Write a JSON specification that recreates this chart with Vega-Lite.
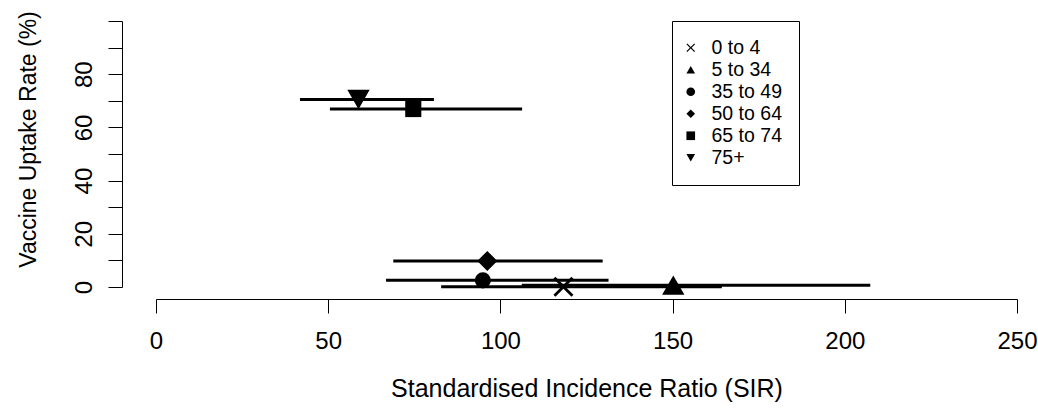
{
  "$schema": "https://vega.github.io/schema/vega-lite/v6.json",
  "width": 861,
  "height": 266,
  "autosize": {"type": "none"},
  "padding": {"left": 156, "top": 21, "right": 21, "bottom": 129},
  "background": "white",
  "config": {
    "view": {"stroke": null},
    "font": "Liberation Sans",
    "axis": {
      "grid": false,
      "domainColor": "black",
      "tickColor": "black",
      "labelColor": "black",
      "titleColor": "black",
      "labelFont": "Liberation Sans",
      "titleFont": "Liberation Sans",
      "titleFontWeight": "normal",
      "labelFontSize": 24,
      "titleFontSize": 24,
      "tickSize": 14,
      "domainWidth": 1,
      "tickWidth": 1
    },
    "legend": {
      "orient": "none",
      "legendX": 516,
      "legendY": 0,
      "strokeColor": "black",
      "strokeWidth": 1,
      "fillColor": "white",
      "padding": 17,
      "labelFontSize": 19.5,
      "labelFont": "Liberation Sans",
      "labelColor": "black",
      "symbolSize": 75,
      "symbolFillColor": "black",
      "symbolStrokeColor": "black",
      "symbolStrokeWidth": 0,
      "symbolOpacity": 1,
      "symbolOffset": -8,
      "rowPadding": 1,
      "labelOffset": 11
    }
  },
  "datasets": {
    "est": [
      {"group": "0 to 4", "sir": 118.3, "lower": 82.8, "upper": 164.3, "uptake": 0.1},
      {"group": "5 to 34", "sir": 150.2, "lower": 106.2, "upper": 207.4, "uptake": 0.7},
      {"group": "35 to 49", "sir": 94.9, "lower": 66.8, "upper": 131.4, "uptake": 2.5},
      {"group": "50 to 64", "sir": 96.2, "lower": 68.9, "upper": 129.7, "uptake": 9.8},
      {"group": "65 to 74", "sir": 74.7, "lower": 50.5, "upper": 106.3, "uptake": 66.9},
      {"group": "75+", "sir": 58.8, "lower": 41.8, "upper": 80.7, "uptake": 70.5}
    ],
    "ref": [{"ref": 100}]
  },
  "encoding": {
    "x": {
      "field": "sir",
      "type": "quantitative",
      "title": "Standardised Incidence Ratio (SIR)",
      "scale": {"domain": [0, 250], "nice": false, "zero": false},
      "axis": {
        "values": [0, 50, 100, 150, 200, 250],
        "offset": 12,
        "labelPadding": 16,
        "titlePadding": 23,
        "titleFontSize": 25,
        "labelFlush": false,
        "labelOverlap": false
      }
    },
    "y": {
      "field": "uptake",
      "type": "quantitative",
      "title": "Vaccine Uptake Rate (%)",
      "scale": {"domain": [0, 100], "nice": false, "zero": false},
      "axis": {
        "values": [0, 10, 20, 30, 40, 50, 60, 70, 80, 90, 100],
        "labelExpr": "datum.value % 20 == 0 && datum.value < 100 ? datum.label : ''",
        "offset": 34,
        "labelAngle": -90,
        "labelAlign": "center",
        "labelBaseline": "bottom",
        "labelPadding": 12,
        "titlePadding": 32,
        "titleFontSize": 23,
        "titleY": 118,
        "labelFlush": false,
        "labelOverlap": false
      }
    },
    "shape": {
      "field": "group",
      "type": "nominal",
      "scale": {
        "domain": ["0 to 4", "5 to 34", "35 to 49", "50 to 64", "65 to 74", "75+"],
        "range": [
          "M-1,-0.8L-0.8,-1L0,-0.2L0.8,-1L1,-0.8L0.2,0L1,0.8L0.8,1L0,0.2L-0.8,1L-1,0.8L-0.2,0Z",
          "triangle-up", "circle", "diamond", "square", "triangle-down"
        ]
      },
      "legend": {"title": null}
    }
  },
  "layer": [
    {
      "data": {"name": "ref"},
      "mark": {"type": "rule", "strokeDash": [5, 4], "color": "black", "strokeWidth": 1},
      "encoding": {
        "x": {"field": "ref", "type": "quantitative", "title": "Standardised Incidence Ratio (SIR)"},
        "y": {"datum": -4.6},
        "y2": {"datum": 104},
        "shape": null
      }
    },
    {
      "data": {"name": "est"},
      "mark": {"type": "rule", "strokeWidth": 3, "color": "black"},
      "encoding": {
        "x": {"field": "lower", "type": "quantitative", "title": "Standardised Incidence Ratio (SIR)"},
        "x2": {"field": "upper"},
        "shape": null
      }
    },
    {
      "data": {"name": "est"},
      "transform": [{"filter": {"field": "group", "oneOf": ["35 to 49", "65 to 74"]}}],
      "mark": {"type": "point", "filled": true, "opacity": 1, "color": "black", "strokeWidth": 0, "size": 260}
    },
    {
      "data": {"name": "est"},
      "transform": [{"filter": {"field": "group", "oneOf": ["0 to 4", "50 to 64"]}}],
      "mark": {"type": "point", "filled": true, "opacity": 1, "color": "black", "strokeWidth": 0, "size": 400}
    },
    {
      "data": {"name": "est"},
      "transform": [{"filter": {"field": "group", "oneOf": ["5 to 34", "75+"]}}],
      "mark": {"type": "point", "filled": true, "opacity": 1, "color": "black", "strokeWidth": 0, "size": 500}
    }
  ]
}
